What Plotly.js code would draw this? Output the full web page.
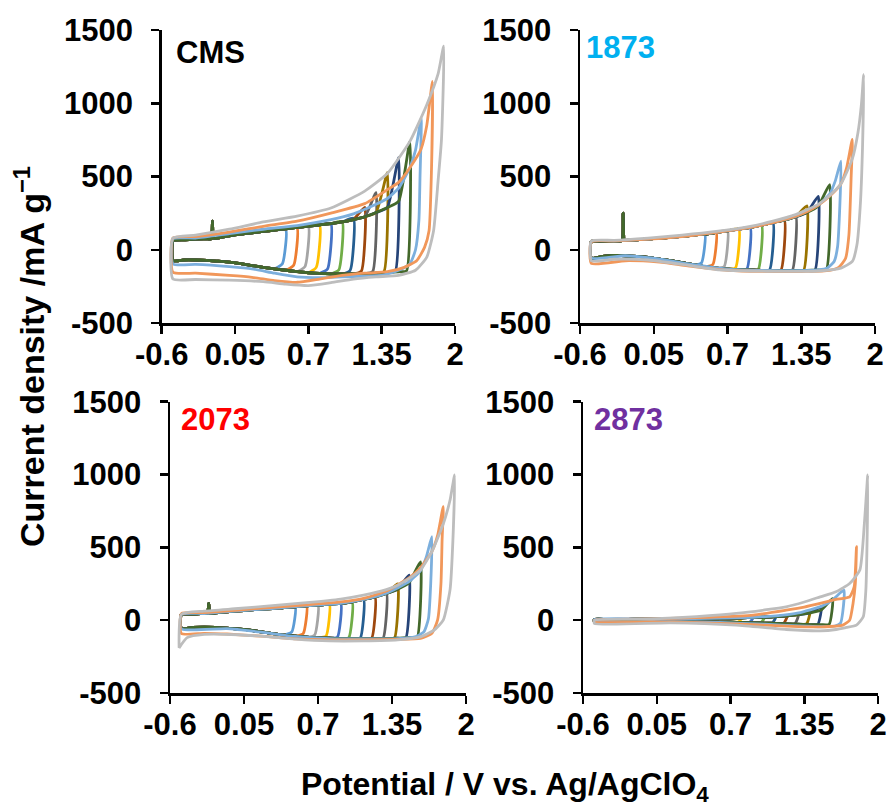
<!DOCTYPE html>
<html><head><meta charset="utf-8">
<script src="https://cdn.plot.ly/plotly-3.0.1.min.js"></script>
<style>html,body{margin:0;padding:0;background:#fff}#chart{width:894px;height:809px}</style>
</head><body><div id="chart"></div>
<script>
// ---------- shared data ----------
const xTickVals = [-0.6, 0.05, 0.7, 1.35, 2];
const xTickText = ['-0.6', '0.05', '0.7', '1.35', '2'];
const yTickVals = [-500, 0, 500, 1000, 1500];
const yTickText = ['-500', '0', '500', '1000', '1500'];
const panelNames = ['CMS', '1873', '2073', '2873'];
const vertexE = [0.5, 0.6, 0.7, 0.8, 0.9, 1.0, 1.1, 1.2, 1.3, 1.4, 1.5, 1.6];   // cycles 1-12
const catGridE = [-0.5, -0.4, -0.3, -0.2, -0.1, 0, 0.1, 0.2, 0.3, 0.4, 0.5, 0.6, 0.7, 0.8, 0.9, 1.0, 1.1, 1.2, 1.3, 1.4, 1.5];

// ---------- CMS ----------
const cms_anoE = [-0.5, -0.4, -0.3, -0.2, -0.16, -0.15, -0.14, -0.1, 0, 0.1, 0.2, 0.3, 0.4, 0.5, 0.6, 0.7, 0.8, 0.9, 1.0, 1.1, 1.2, 1.3, 1.4, 1.5];
const cms_anoI = [62, 68, 73, 74, 75, 195, 78, 80, 95, 107, 116, 125, 134, 143, 152, 161, 170, 179, 190, 206, 225, 254, 288, 330];
const cms_catI = [-75, -70, -70, -72, -78, -84, -95, -108, -120, -130, -140, -150, -157, -161, -164, -165, -165, -163, -160, -155, -150];
const cms_peak = [135, 148, 158, 168, 178, 192, 215, 290, 390, 526, 628, 740];
const cms_turn = [-95, -106, -115, -120, -131, -138, -142, -146, -150, -150, -148, -145];
const cms_c13_anoE = [-0.5, -0.3, 0, 0.3, 0.6, 0.9, 1.1, 1.3, 1.4, 1.5, 1.6, 1.65, 1.7];
const cms_c13_anoI = [75, 80, 110, 140, 165, 205, 245, 310, 350, 420, 560, 680, 896];
const cms_c13_catE = [1.69, 1.68, 1.65, 1.6, 1.5, 1.35, 1.2, 1.0, 0.8, 0.6, 0.4, 0.2, 0, -0.3, -0.5];
const cms_c13_catI = [500, 200, 0, -97, -140, -175, -180, -185, -190, -185, -160, -130, -115, -100, -97];
const cms_c14_anoE = [-0.5, -0.3, 0, 0.3, 0.6, 0.9, 1.2, 1.4, 1.5, 1.6, 1.7, 1.75, 1.8];
const cms_c14_anoI = [80, 90, 120, 160, 195, 250, 315, 410, 460, 560, 690, 850, 1150];
const cms_c14_catE = [1.79, 1.77, 1.73, 1.66, 1.55, 1.4, 1.2, 1.0, 0.8, 0.6, 0.4, 0.2, 0, -0.3, -0.5];
const cms_c14_catI = [500, 130, 16, -75, -120, -150, -160, -175, -200, -222, -210, -188, -175, -160, -154];
const cms_c15_anoE = [-0.5, -0.3, 0, 0.3, 0.6, 0.9, 1.2, 1.4, 1.6, 1.75, 1.85, 1.9];
const cms_c15_anoI = [80, 100, 140, 190, 230, 285, 400, 520, 740, 990, 1200, 1390];
const cms_c15_catE = [1.88, 1.85, 1.81, 1.75, 1.65, 1.5, 1.3, 1.1, 0.9, 0.7, 0.5, 0.3, 0, -0.3, -0.5];
const cms_c15_catI = [750, 470, 130, -50, -140, -175, -185, -200, -225, -245, -235, -218, -208, -203, -200];

// ---------- 1873 ----------
const p1873_anoE = [-0.5, -0.4, -0.3, -0.23, -0.22, -0.21, -0.2, -0.1, 0, 0.1, 0.2, 0.3, 0.4, 0.5, 0.6, 0.7, 0.8, 0.9, 1.0, 1.1, 1.2, 1.3, 1.4, 1.5];
const p1873_anoI = [57, 59, 61, 63, 250, 64, 64, 68, 73, 79, 84, 91, 100, 107, 118, 129, 141, 152, 168, 186, 202, 225, 254, 299];
const p1873_catI = [-57, -45, -39, -41, -45, -52, -64, -75, -88, -102, -116, -125, -132, -136, -138, -141, -143, -143, -143, -141, -138];
const p1873_peak = [107, 118, 129, 141, 152, 168, 186, 205, 235, 300, 365, 445];
const p1873_turn = [-90, -102, -116, -125, -132, -136, -138, -141, -143, -143, -141, -138];
const p1873_c13_anoE = [-0.5, -0.3, 0, 0.3, 0.6, 0.9, 1.1, 1.3, 1.5, 1.6, 1.65, 1.7];
const p1873_c13_anoI = [57, 61, 73, 91, 118, 152, 186, 228, 305, 380, 470, 605];
const p1873_c13_catE = [1.69, 1.67, 1.64, 1.58, 1.5, 1.3, 1.0, 0.7, 0.4, 0.1, -0.2, -0.5];
const p1873_c13_catI = [300, 20, -80, -125, -138, -143, -141, -132, -102, -64, -41, -57];
const p1873_c14_anoE = [-0.5, -0.3, 0, 0.3, 0.6, 0.9, 1.2, 1.4, 1.5, 1.6, 1.7, 1.75, 1.8];
const p1873_c14_anoI = [55, 60, 72, 90, 118, 152, 205, 260, 305, 365, 450, 560, 753];
const p1873_c14_catE = [1.79, 1.77, 1.74, 1.68, 1.6, 1.4, 1.0, 0.7, 0.4, 0.1, -0.2, -0.5];
const p1873_c14_catI = [500, 100, -60, -120, -140, -148, -148, -140, -115, -85, -75, -93];
const p1873_c15_anoE = [-0.5, -0.3, 0, 0.3, 0.6, 0.9, 1.1, 1.3, 1.5, 1.6, 1.7, 1.8, 1.85, 1.88, 1.9];
const p1873_c15_anoI = [60, 64, 80, 100, 125, 160, 195, 240, 310, 370, 450, 620, 800, 990, 1195];
const p1873_c15_catE = [1.89, 1.87, 1.84, 1.8, 1.7, 1.5, 1.2, 0.9, 0.6, 0.3, 0, -0.3, -0.5];
const p1873_c15_catI = [700, 300, 30, -80, -125, -145, -148, -145, -135, -100, -70, -65, -75];

// ---------- 2073 ----------
const p2073_anoE = [-0.5, -0.4, -0.3, -0.27, -0.26, -0.25, -0.2, -0.1, 0, 0.1, 0.2, 0.3, 0.4, 0.5, 0.6, 0.7, 0.8, 0.9, 1.0, 1.1, 1.2, 1.3, 1.4, 1.5];
const p2073_anoI = [40, 41, 46, 47, 115, 48, 50, 57, 64, 69, 76, 80, 87, 92, 99, 103, 110, 115, 126, 142, 160, 183, 213, 257];
const p2073_catI = [-57, -50, -48, -50, -55, -60, -69, -80, -92, -103, -110, -117, -121, -124, -126, -126, -126, -126, -126, -124, -119];
const p2073_peak = [92, 99, 103, 110, 115, 126, 142, 162, 190, 250, 310, 400];
const p2073_turn = [-80, -92, -103, -110, -117, -121, -124, -126, -126, -126, -124, -119];
const p2073_c13_anoE = [-0.5, -0.3, 0, 0.3, 0.6, 0.9, 1.1, 1.3, 1.5, 1.6, 1.65, 1.7];
const p2073_c13_anoI = [40, 46, 64, 80, 99, 115, 142, 185, 265, 340, 430, 573];
const p2073_c13_catE = [1.69, 1.67, 1.63, 1.55, 1.4, 1.1, 0.8, 0.5, 0.2, -0.1, -0.5];
const p2073_c13_catI = [250, 10, -80, -115, -126, -128, -126, -112, -82, -58, -60];
const p2073_c14_anoE = [-0.5, -0.3, 0, 0.3, 0.6, 0.9, 1.1, 1.3, 1.5, 1.6, 1.7, 1.75, 1.8];
const p2073_c14_anoI = [45, 52, 70, 88, 105, 125, 150, 200, 290, 360, 470, 580, 779];
const p2073_c14_catE = [1.79, 1.78, 1.75, 1.7, 1.6, 1.4, 1.1, 0.8, 0.5, 0.2, -0.1, -0.3, -0.5];
const p2073_c14_catI = [550, 250, 0, -90, -125, -132, -135, -135, -128, -110, -95, -90, -92];
const p2073_c15_anoE = [-0.52, -0.5, -0.3, 0, 0.3, 0.6, 0.9, 1.1, 1.3, 1.4, 1.5, 1.6, 1.7, 1.8, 1.86, 1.9];
const p2073_c15_anoI = [-190, 40, 62, 80, 100, 120, 145, 172, 210, 240, 285, 345, 470, 660, 825, 997];
const p2073_c15_catE = [1.885, 1.86, 1.8, 1.72, 1.6, 1.4, 1.1, 0.8, 0.5, 0.2, 0, -0.3, -0.45, -0.52];
const p2073_c15_catI = [550, 210, 0, -69, -115, -135, -142, -142, -130, -110, -100, -98, -120, -190];

// ---------- 2873 ----------
const p2873_anoE = catGridE;
const p2873_anoI = [5, 5, 5, 6, 7, 8, 9, 10, 10, 11, 12, 13, 14, 16, 18, 20, 24, 30, 38, 50, 70];
const p2873_catI = [-10, -9, -8, -8, -8, -8, -9, -10, -10, -11, -12, -13, -14, -16, -18, -20, -22, -25, -28, -30, -31];
const p2873_peak = [12, 13, 14, 16, 18, 20, 24, 30, 40, 60, 92, 149];
const p2873_turn = [-8, -9, -10, -12, -14, -16, -18, -20, -22, -26, -28, -28];
const p2873_c13_anoE = [-0.5, 0, 0.5, 0.9, 1.1, 1.3, 1.5, 1.6, 1.7];
const p2873_c13_anoI = [5, 8, 12, 20, 30, 50, 95, 140, 206];
const p2873_c13_catE = [1.69, 1.67, 1.62, 1.5, 1.3, 1.0, 0.6, 0.2, -0.5];
const p2873_c13_catI = [60, -20, -40, -45, -40, -28, -16, -10, -10];
const p2873_c14_anoE = [-0.5, 0, 0.5, 0.9, 1.19, 1.35, 1.49, 1.63, 1.75, 1.79, 1.81];
const p2873_c14_anoI = [0, 8, 20, 35, 69, 90, 115, 142, 160, 229, 504];
const p2873_c14_catE = [1.8, 1.78, 1.75, 1.69, 1.5, 1.3, 1.0, 0.6, 0.2, -0.5];
const p2873_c14_catI = [250, 115, 0, -34, -46, -44, -34, -22, -12, -11];
const p2873_c15_anoE = [-0.5, 0, 0.4, 0.75, 1.0, 1.19, 1.35, 1.49, 1.63, 1.75, 1.84, 1.88, 1.91];
const p2873_c15_anoI = [0, 8, 25, 46, 70, 92, 125, 160, 195, 252, 344, 664, 997];
const p2873_c15_catE = [1.905, 1.893, 1.87, 1.81, 1.72, 1.63, 1.49, 1.19, 0.75, 0.17, -0.5];
const p2873_c15_catI = [600, 206, 23, -34, -50, -64, -73, -64, -34, -18, -23];

// ---------- styles ----------
const cycleColors = ['#5B9BD5', '#ED7D31', '#A5A5A5', '#FFC000', '#4472C4', '#70AD47', '#255E91', '#9E480E',
  '#636363', '#997300', '#264478', '#43682B', '#7CAFDD', '#F1975A', '#BDBDBD'];
const labelColors = ['#000000', '#00B0F0', '#FF0000', '#7030A0'];
const FONT = 'Liberation Sans, Arial, sans-serif';

const panels = [
  {ano: [cms_anoE, cms_anoI], cat: cms_catI, peak: cms_peak, turn: cms_turn,
   outer: [[cms_c13_anoE, cms_c13_anoI, cms_c13_catE, cms_c13_catI], [cms_c14_anoE, cms_c14_anoI, cms_c14_catE, cms_c14_catI], [cms_c15_anoE, cms_c15_anoI, cms_c15_catE, cms_c15_catI]]},
  {ano: [p1873_anoE, p1873_anoI], cat: p1873_catI, peak: p1873_peak, turn: p1873_turn,
   outer: [[p1873_c13_anoE, p1873_c13_anoI, p1873_c13_catE, p1873_c13_catI], [p1873_c14_anoE, p1873_c14_anoI, p1873_c14_catE, p1873_c14_catI], [p1873_c15_anoE, p1873_c15_anoI, p1873_c15_catE, p1873_c15_catI]]},
  {ano: [p2073_anoE, p2073_anoI], cat: p2073_catI, peak: p2073_peak, turn: p2073_turn,
   outer: [[p2073_c13_anoE, p2073_c13_anoI, p2073_c13_catE, p2073_c13_catI], [p2073_c14_anoE, p2073_c14_anoI, p2073_c14_catE, p2073_c14_catI], [p2073_c15_anoE, p2073_c15_anoI, p2073_c15_catE, p2073_c15_catI]]},
  {ano: [p2873_anoE, p2873_anoI], cat: p2873_catI, peak: p2873_peak, turn: p2873_turn,
   outer: [[p2873_c13_anoE, p2873_c13_anoI, p2873_c13_catE, p2873_c13_catI], [p2873_c14_anoE, p2873_c14_anoI, p2873_c14_catE, p2873_c14_catI], [p2873_c15_anoE, p2873_c15_anoI, p2873_c15_catE, p2873_c15_catI]]}
];

function mainCycle(anoE, anoI, catI, ev, peak, turn) {
  const x = [], y = [];
  for (let i = 0; i < anoE.length; i++) if (anoE[i] < ev - 0.05) { x.push(anoE[i]); y.push(anoI[i]); }
  x.push(ev); y.push(peak);
  x.push(ev - 0.03); y.push(turn);
  for (let i = catGridE.length - 1; i >= 0; i--) if (catGridE[i] < ev - 0.08) { x.push(catGridE[i]); y.push(catI[i]); }
  x.push(anoE[0]); y.push(anoI[0]);
  return {x, y};
}
function outerCycle(o) {
  return {x: o[0].concat(o[2], [o[0][0]]), y: o[1].concat(o[3], [o[1][0]])};
}

const traces = [];
panels.forEach((p, pi) => {
  const xa = pi === 0 ? 'x' : 'x' + (pi + 1);
  const ya = pi === 0 ? 'y' : 'y' + (pi + 1);
  vertexE.forEach((ev, k) => {
    const c = mainCycle(p.ano[0], p.ano[1], p.cat, ev, p.peak[k], p.turn[k]);
    traces.push({x: c.x, y: c.y, xaxis: xa, yaxis: ya, mode: 'lines', type: 'scatter',
      line: {color: cycleColors[k], width: 2.8, shape: 'spline', smoothing: 0.5}, hoverinfo: 'skip'});
  });
  p.outer.forEach((o, j) => {
    const c = outerCycle(o);
    traces.push({x: c.x, y: c.y, xaxis: xa, yaxis: ya, mode: 'lines', type: 'scatter',
      line: {color: cycleColors[12 + j], width: 2.8, shape: 'spline', smoothing: 0.5}, hoverinfo: 'skip'});
  });
});

const W = 894, H = 809;
const boxes = [  // pixel boxes [x0, x1, yTop, yBottom]
  [161.7, 455, 30, 323],
  [580, 875, 30, 323],
  [170, 466, 401.7, 693],
  [583, 878, 401.7, 693]
];
const tickFont = {family: FONT, size: 31, color: '#000', weight: 700};
const layout = {
  width: W, height: H, margin: {l: 0, r: 0, t: 0, b: 0},
  paper_bgcolor: '#fff', plot_bgcolor: 'rgba(0,0,0,0)', showlegend: false,
  annotations: []
};
boxes.forEach((b, i) => {
  const sfx = i === 0 ? '' : String(i + 1);
  layout['xaxis' + sfx] = {
    domain: [b[0] / W, b[1] / W], anchor: 'y' + sfx, range: [-0.6, 2],
    tickmode: 'array', tickvals: xTickVals, ticktext: xTickText,
    showline: true, linecolor: '#000', linewidth: 2.5, ticks: 'outside', ticklen: 8, tickwidth: 2.5, tickcolor: '#000',
    showgrid: false, zeroline: false, tickfont: tickFont, ticklabelstandoff: -6, fixedrange: true
  };
  layout['yaxis' + sfx] = {
    domain: [1 - b[3] / H, 1 - b[2] / H], anchor: 'x' + sfx, range: [-500, 1500],
    tickmode: 'array', tickvals: yTickVals, ticktext: yTickText,
    showline: true, linecolor: '#000', linewidth: 2.5, ticks: 'outside', ticklen: 8, tickwidth: 2.5, tickcolor: '#000',
    showgrid: false, zeroline: false, tickfont: tickFont, ticklabelstandoff: 12, fixedrange: true
  };
});
const labelPos = [[174, 52], [584, 48], [179, 419], [592, 419]];
panelNames.forEach((n, i) => {
  layout.annotations.push({text: n, xref: 'paper', yref: 'paper', x: labelPos[i][0] / W, y: 1 - labelPos[i][1] / H,
    xanchor: 'left', yanchor: 'middle', showarrow: false, font: {family: FONT, size: 31, color: labelColors[i], weight: 700}});
});
layout.annotations.push({text: 'Current density /mA g<sup>−1</sup>', xref: 'paper', yref: 'paper', x: 29 / W, y: 1 - 357 / H,
  xanchor: 'center', yanchor: 'middle', textangle: -90, showarrow: false, font: {family: FONT, size: 34, color: '#000', weight: 700}});
layout.annotations.push({text: 'Potential / V vs. Ag/AgClO<sub>4</sub>', xref: 'paper', yref: 'paper', x: 505 / W, y: 1 - 786 / H,
  xanchor: 'center', yanchor: 'middle', showarrow: false, font: {family: FONT, size: 32, color: '#000', weight: 700}});

Plotly.newPlot('chart', traces, layout, {staticPlot: true, displayModeBar: false});
</script></body></html>
